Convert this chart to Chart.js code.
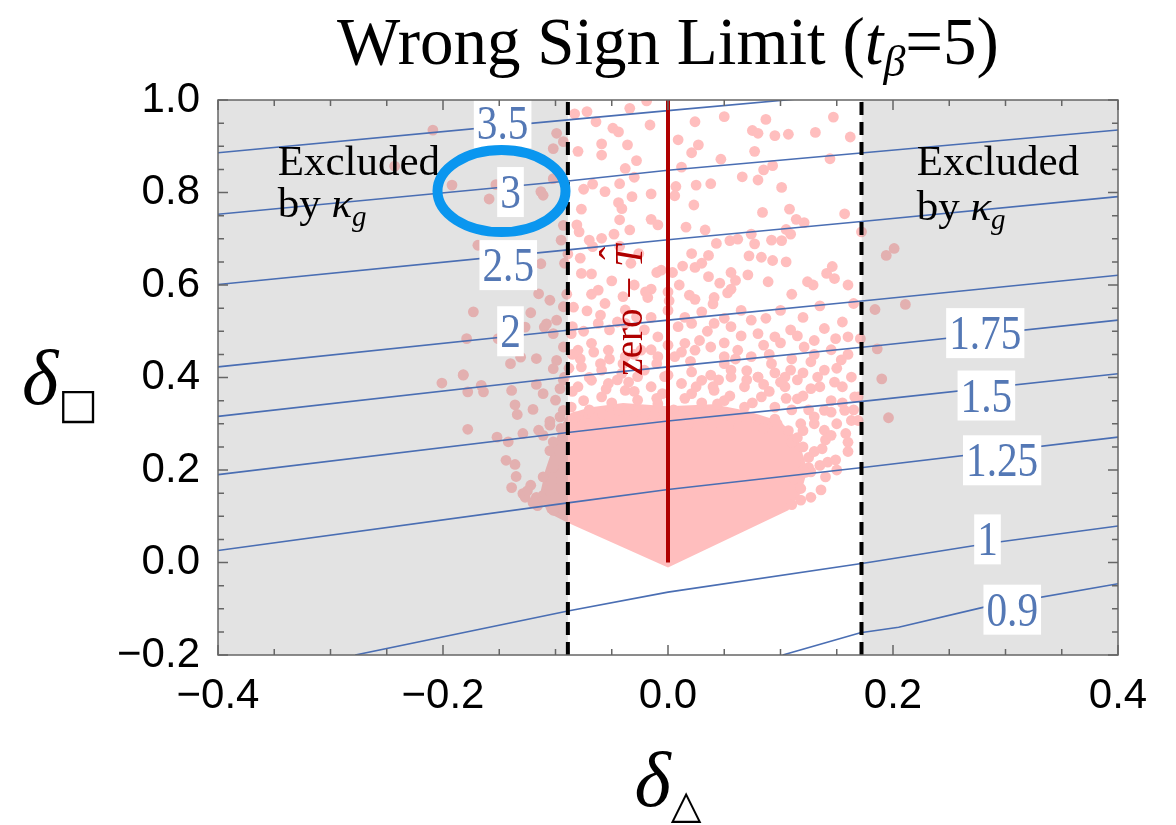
<!DOCTYPE html>
<html>
<head>
<meta charset="utf-8">
<script src="https://cdn.jsdelivr.net/npm/chart.js@4.4.0/dist/chart.umd.min.js"></script>
<style>
  html, body { margin: 0; padding: 0; background: #fff; }
  #wrap { width: 1176px; height: 825px; }
</style>
</head>
<body>
<div id="wrap"><canvas id="chart" width="1176" height="825"></canvas></div>
<script>
// axis ranges and the kappa_g exclusion boundaries
const xRange = [-0.4, 0.4];
const yRange = [-0.2, 1.0];
const kappaBounds = [-0.089, 0.172];

// contour lines, [x, y] pairs
const contour35 = [[-0.4, 0.886], [-0.089, 0.957], [0.0, 0.977], [0.4, 1.065]];
const contour3 = [[-0.4, 0.753], [-0.089, 0.825], [0.0, 0.848], [0.179, 0.887], [0.4, 0.935]];
const contour25 = [[-0.4, 0.601], [-0.089, 0.676], [0.0, 0.698], [0.179, 0.739], [0.4, 0.791]];
const contour2 = [[-0.4, 0.423], [-0.089, 0.502], [0.0, 0.524], [0.179, 0.567], [0.4, 0.621]];
const contour175 = [[-0.4, 0.316], [-0.089, 0.401], [0.0, 0.423], [0.179, 0.467], [0.4, 0.524]];
const contour15 = [[-0.4, 0.190], [-0.089, 0.281], [0.0, 0.306], [0.179, 0.350], [0.4, 0.408]];
const contour125 = [[-0.4, 0.026], [-0.089, 0.129], [0.0, 0.158], [0.179, 0.207], [0.4, 0.271]];
const contour1 = [[-0.278, -0.2], [-0.089, -0.105], [0.0, -0.064], [0.178, 0.0], [0.284, 0.041], [0.4, 0.079]];
const contour09 = [[0.102, -0.2], [0.171, -0.152], [0.205, -0.140], [0.28, -0.097], [0.4, -0.046]];

const contourLines = [contour35, contour3, contour25, contour2, contour175, contour15, contour125, contour1, contour09];
const contourLabels = ['3.5', '3', '2.5', '2', '1.75', '1.5', '1.25', '1', '0.9'];
const labelX = [-0.147, -0.140, -0.142, -0.140, 0.282, 0.283, 0.297, 0.284, 0.306];
const labelY = [0.950, 0.801, 0.643, 0.500, 0.496, 0.361, 0.221, 0.050, -0.102];

// zero-T line
const zeroTLine = [[0, 0], [0, 1.0]];

// the solid core of the scan points (upper and lower edge)
const coreUpper = [[-0.114, 0.145], [-0.109, 0.200], [-0.100, 0.265], [-0.090, 0.320], [-0.070, 0.335], [-0.040, 0.345],
  [0.0, 0.338], [0.040, 0.342], [0.070, 0.328], [0.100, 0.305], [0.116, 0.265], [0.124, 0.200]];
const coreLower = [[-0.114, 0.145], [-0.107, 0.108], [-0.090, 0.087], [0.0, -0.011], [0.107, 0.113], [0.118, 0.150], [0.124, 0.200]];

// individual scan points
const scanPoints = [
  [-0.019,0.998],[-0.034,0.982],[-0.072,0.975],[-0.083,0.970],[-0.064,0.953],[-0.016,0.946],[0.024,0.953],[0.050,0.964],[0.087,0.958],[0.147,0.963],
  [-0.049,0.939],[-0.044,0.931],[0.075,0.934],[0.080,0.928],[0.095,0.923],[0.107,0.926],[0.131,0.930],[0.162,0.920],[-0.080,0.889],[-0.059,0.905],
  [-0.036,0.903],[0.009,0.914],[0.027,0.903],[0.021,0.886],[0.077,0.889],[0.144,0.873],[0.047,0.872],[-0.059,0.881],[-0.028,0.869],[0.093,0.858],
  [0.085,0.849],[0.066,0.834],[0.080,0.827],[0.038,0.819],[0.101,0.811],[-0.038,0.852],[-0.030,0.833],[-0.043,0.819],[-0.067,0.818],[-0.075,0.807],
  [-0.056,0.802],[-0.032,0.791],[-0.015,0.797],[0.007,0.813],[0.006,0.793],[0.012,0.855],[0.025,0.816],[0.023,0.773],[-0.044,0.778],[-0.041,0.765],
  [-0.077,0.764],[-0.043,0.741],[-0.015,0.742],[-0.009,0.730],[-0.081,0.730],[-0.079,0.715],[-0.070,0.697],[-0.059,0.701],[-0.048,0.710],[-0.034,0.719],
  [0.016,0.725],[0.033,0.719],[0.043,0.690],[0.055,0.696],[0.062,0.699],[0.074,0.710],[0.084,0.757],[0.108,0.764],[0.114,0.742],[0.121,0.735],
  [0.105,0.720],[0.157,0.754],[0.172,0.715],[0.077,0.689],[0.092,0.697],[0.101,0.696],[0.109,0.710],[-0.089,0.667],[-0.078,0.658],[-0.067,0.683],
  [-0.043,0.684],[-0.026,0.668],[-0.033,0.647],[-0.006,0.632],[0.004,0.627],[-0.010,0.627],[0.013,0.641],[0.024,0.638],[0.030,0.647],[0.036,0.664],
  [0.021,0.668],[0.036,0.618],[0.046,0.604],[0.056,0.627],[0.072,0.663],[0.083,0.660],[0.093,0.653],[0.105,0.650],[0.071,0.622],[0.089,0.607],
  [0.124,0.607],[0.129,0.600],[0.141,0.625],[0.146,0.640],[0.148,0.614],[0.056,0.591],[0.053,0.583],[0.041,0.573],[0.040,0.559],[0.019,0.578],
  [0.024,0.569],[0.000,0.585],[0.001,0.566],[-0.015,0.591],[-0.020,0.585],[-0.018,0.573],[-0.062,0.589],[-0.068,0.580],[-0.050,0.609],[-0.068,0.624],
  [-0.077,0.625],[-0.092,0.647],
  [-0.084,0.552],[-0.072,0.544],[-0.056,0.560],[-0.038,0.546],[-0.028,0.531],[-0.062,0.517],[-0.052,0.503],[-0.038,0.517],[-0.021,0.503],[-0.009,0.488],
  [0.009,0.510],[0.021,0.517],[0.030,0.542],[0.041,0.517],[0.050,0.528],[0.056,0.510],[0.074,0.524],[0.087,0.528],[0.080,0.495],[0.095,0.488],
  [0.109,0.503],[0.121,0.466],[0.139,0.506],[0.149,0.484],[0.160,0.488],[0.127,0.434],[0.109,0.416],[0.092,0.430],[0.074,0.445],[0.062,0.459],
  [0.050,0.445],[0.038,0.466],[0.024,0.459],[0.015,0.474],[0.006,0.445],[-0.009,0.445],[-0.024,0.459],[-0.038,0.445],[-0.053,0.459],[-0.068,0.474],
  [-0.080,0.459],[-0.086,0.495],[-0.077,0.423],[-0.059,0.416],[-0.041,0.409],[-0.021,0.416],[0.021,0.412],[0.038,0.405],[0.056,0.416],[0.080,0.401],
  [0.104,0.401],[0.139,0.416],[0.154,0.438],[0.163,0.401],[-0.027,0.402],[-0.003,0.402],
  [-0.088,0.420],[-0.078,0.440],[-0.066,0.455],[-0.052,0.440],[-0.030,0.450],[-0.015,0.460],[0.000,0.470],[0.012,0.455],[0.028,0.480],[0.050,0.475],
  [0.065,0.490],[0.085,0.470],[0.100,0.475],[0.115,0.490],[0.130,0.480],[0.145,0.460],[0.160,0.450],[0.120,0.410],[0.095,0.410],[0.060,0.440],
  [-0.075,0.500],[-0.060,0.535],[-0.045,0.520],[-0.015,0.530],[0.000,0.545],[0.015,0.530],[0.035,0.500],[0.065,0.545],[0.100,0.545],[0.120,0.530],
  [0.135,0.555],[0.155,0.520],[0.165,0.560],[-0.090,0.580],[-0.040,0.575],[-0.030,0.600],[0.010,0.600],[0.060,0.610],[0.110,0.580],[0.160,0.600],
  [-0.085,0.510],
  [-0.092,0.401],[-0.080,0.380],[-0.068,0.394],[-0.053,0.387],[-0.059,0.358],[-0.038,0.372],[-0.027,0.351],[-0.015,0.380],[-0.009,0.343],[0.012,0.387],
  [0.021,0.365],[0.030,0.394],[0.041,0.372],[0.056,0.401],[0.068,0.380],[0.080,0.401],[0.083,0.358],[0.104,0.380],[0.115,0.354],[0.127,0.376],
  [0.133,0.401],[0.148,0.390],[0.166,0.358],[0.157,0.329],[0.163,0.307],[0.139,0.329],[0.130,0.300],[0.118,0.300],[0.139,0.286],[0.158,0.279],
  [0.137,0.246],[0.125,0.227],[0.142,0.217],[0.149,0.222],[0.127,0.196],[0.136,0.157],[0.127,0.141],[0.095,0.336],[0.068,0.336],[0.044,0.343],
  [0.027,0.329],[-0.044,0.329],[-0.071,0.322],[-0.086,0.336],
  [-0.085,0.370],[-0.075,0.350],[-0.065,0.310],[-0.050,0.345],[-0.045,0.395],[-0.030,0.370],[-0.020,0.320],[-0.005,0.365],[0.005,0.330],[0.015,0.355],
  [0.030,0.345],[0.035,0.310],[0.045,0.395],[0.055,0.360],[0.060,0.320],[0.070,0.395],[0.075,0.345],[0.090,0.370],[0.095,0.310],[0.100,0.390],
  [0.110,0.330],[0.120,0.360],[0.130,0.315],[0.145,0.350],[0.150,0.300],[0.155,0.380],[0.160,0.260],[0.140,0.265],[0.130,0.240],[0.120,0.285],
  [0.110,0.260],[0.125,0.205],[0.140,0.185],[0.118,0.160],[-0.060,0.430],[-0.040,0.430],[-0.010,0.430],[0.020,0.435],[0.050,0.430],[0.070,0.415],
  [0.090,0.450],[0.110,0.440],[0.130,0.450],[0.150,0.420],[-0.085,0.450],[-0.070,0.400],[0.000,0.405],[0.040,0.380],
  [-0.070,0.330],[-0.055,0.375],[-0.035,0.390],[-0.010,0.355],[0.025,0.380],[0.050,0.350],[0.085,0.385],[0.105,0.355],[0.125,0.330],[0.115,0.395],
  [0.145,0.275],[0.160,0.240],[0.135,0.210],[0.150,0.200],[0.145,0.325],[0.155,0.345],[0.165,0.330],[0.135,0.380],
  [-0.105,0.305],[-0.095,0.290],[-0.082,0.315],[-0.070,0.295],[-0.058,0.320],[-0.047,0.300],[-0.035,0.330],[-0.025,0.305],[-0.012,0.318],[-0.002,0.290],
  [0.008,0.315],[0.018,0.298],[0.028,0.322],[0.040,0.300],[0.052,0.318],[0.063,0.295],[0.073,0.312],[0.085,0.290],[0.097,0.300],[0.107,0.285],
  [0.115,0.270],[0.120,0.250],[0.113,0.215],[0.122,0.195],[0.112,0.180],[0.118,0.135],[0.110,0.125],
  [-0.201,0.388],[-0.182,0.406],[-0.166,0.383],[-0.178,0.369],[-0.164,0.369],[-0.139,0.372],[-0.117,0.385],[-0.111,0.365],[-0.100,0.351],[-0.096,0.376],
  [-0.136,0.341],[-0.134,0.320],[-0.120,0.331],[-0.178,0.288],[-0.152,0.271],[-0.142,0.261],[-0.129,0.279],[-0.115,0.286],[-0.111,0.275],[-0.105,0.297],
  [-0.096,0.315],[-0.093,0.329],[-0.102,0.261],[-0.105,0.242],[-0.096,0.224],[-0.144,0.221],[-0.136,0.212],[-0.135,0.186],[-0.139,0.162],[-0.129,0.149],
  [-0.122,0.167],[-0.117,0.141],[-0.111,0.145],[-0.105,0.156],[-0.102,0.131],[-0.095,0.177],[-0.095,0.163],[-0.111,0.185],[-0.102,0.206],[-0.093,0.113],
  [-0.102,0.113],[-0.116,0.123],[-0.127,0.141],[-0.125,0.155],[-0.110,0.135],[-0.100,0.140],[-0.120,0.130],
  [-0.209,0.935],[-0.243,0.857],[-0.192,0.816],[-0.153,0.817],[-0.159,0.786],[-0.113,0.802],[-0.111,0.794],[-0.102,0.830],[-0.099,0.928],[-0.093,0.910],
  [-0.102,0.895],[-0.093,0.729],[-0.095,0.697],[-0.169,0.686],[-0.113,0.646],[-0.115,0.581],[-0.105,0.567],[-0.093,0.553],[-0.122,0.540],[-0.173,0.542],
  [-0.127,0.509],[-0.110,0.509],[-0.102,0.495],[-0.093,0.466],[-0.179,0.484],[-0.151,0.484],[-0.131,0.444],[-0.117,0.441],[-0.099,0.437],[-0.140,0.430],
  [-0.102,0.419],[-0.182,0.405],[-0.093,0.394],[-0.108,0.516],[-0.099,0.524],
  [0.194,0.664],[0.201,0.679],[0.184,0.547],[0.211,0.558],[0.171,0.484],[0.186,0.462],[0.190,0.397],[0.196,0.313],[0.169,0.358],[0.169,0.307]
];

const serif = '"Liberation Serif", "Times New Roman", serif';
const sans = '"Liberation Sans", Arial, sans-serif';
const symbolFont = '"DejaVu Sans", sans-serif';
const pink = 'rgb(255, 190, 190)';
const contourColor = '#4a6eb3';
const labelColor = '#5478b5';

const toXY = (pairs) => pairs.map(([x, y]) => ({ x, y }));

function tickText(v) {
  if (Math.abs(v) < 1e-9) return '0.0';
  return (v < 0 ? '\u2212' : '') + Math.abs(v).toFixed(1);
}

function drawRuns(ctx, runs, x, y, center) {
  let total = 0;
  runs.forEach((r) => { ctx.font = r[1]; total += ctx.measureText(r[0]).width; });
  let cx = center ? x - total / 2 : x;
  runs.forEach((r) => {
    ctx.font = r[1];
    ctx.fillText(r[0], cx, y + (r[2] || 0));
    cx += ctx.measureText(r[0]).width;
  });
  return total;
}

const annotations = {
  id: 'annotations',
  afterDraw(chart) {
    const { ctx, chartArea: a, scales: { x, y } } = chart;
    ctx.save();
    ctx.textAlign = 'left';
    ctx.textBaseline = 'alphabetic';

    // contour labels on white boxes
    ctx.font = '48px ' + serif;
    contourLabels.forEach((txt, i) => {
      const px = x.getPixelForValue(labelX[i]);
      const py = y.getPixelForValue(labelY[i]);
      const w = ctx.measureText(txt).width * 0.86;
      ctx.fillStyle = '#fff';
      ctx.fillRect(px - w / 2 - 3, py - 25, w + 6, 50);
      ctx.save();
      ctx.translate(px, py);
      ctx.scale(0.86, 1);
      ctx.fillStyle = labelColor;
      ctx.textAlign = 'center';
      ctx.fillText(txt, 0, 16);
      ctx.restore();
    });

    // excluded-region texts
    ctx.fillStyle = '#000';
    const exFont = '43px ' + serif;
    const byRuns = [['by ', exFont], ['\u03ba', 'italic 43px ' + serif], ['g', 'italic 29px ' + serif, 9]];
    [[-0.347, 175, 217], [0.221, 175, 220]].forEach(([vx, b1, b2]) => {
      const px = x.getPixelForValue(vx);
      drawRuns(ctx, [['Excluded', exFont]], px, b1, false);
      drawRuns(ctx, byRuns, px, b2, false);
    });

    // zero-T label, rotated
    ctx.save();
    ctx.translate(x.getPixelForValue(0) - 26, y.getPixelForValue(0.404));
    ctx.rotate(-Math.PI / 2);
    ctx.fillStyle = '#b00000';
    ctx.font = '39px ' + serif;
    const w1 = ctx.measureText('zero \u2212 ').width;
    ctx.fillText('zero \u2212 ', 0, 0);
    ctx.font = 'italic 39px ' + serif;
    const wT = ctx.measureText('T').width;
    ctx.fillText('T', w1, 0);
    ctx.font = '39px ' + serif;
    ctx.textAlign = 'center';
    ctx.fillText('\u02c6', w1 + wT / 2 + 3, -15);
    ctx.restore();

    // highlight ellipse around the "3" label
    ctx.strokeStyle = '#0a96ef';
    ctx.lineWidth = 10;
    ctx.beginPath();
    ctx.ellipse(x.getPixelForValue(-0.148), y.getPixelForValue(0.803), 64, 41, 0, 0, Math.PI * 2);
    ctx.stroke();

    // frame and inward ticks
    ctx.strokeStyle = '#666';
    ctx.lineWidth = 1.5;
    ctx.strokeRect(a.left, a.top, a.right - a.left, a.bottom - a.top);
    ctx.beginPath();
    for (let k = 0; k <= 16; k++) {
      const px = x.getPixelForValue(xRange[0] + k * 0.05);
      const len = k % 4 === 0 ? 10 : 6;
      ctx.moveTo(px, a.bottom); ctx.lineTo(px, a.bottom - len);
      ctx.moveTo(px, a.top); ctx.lineTo(px, a.top + len);
    }
    for (let k = 0; k <= 24; k++) {
      const py = y.getPixelForValue(yRange[0] + k * 0.05);
      const len = k % 4 === 0 ? 10 : 6;
      ctx.moveTo(a.left, py); ctx.lineTo(a.left + len, py);
      ctx.moveTo(a.right, py); ctx.lineTo(a.right - len, py);
    }
    ctx.stroke();

    // title
    ctx.fillStyle = '#000';
    const cx = (a.left + a.right) / 2;
    drawRuns(ctx, [
      ['Wrong Sign Limit (', '67px ' + serif],
      ['t', 'italic 67px ' + serif],
      ['\u03b2', 'italic 44px ' + serif, 12],
      ['=5)', '67px ' + serif]
    ], cx, 64, true);

    // axis titles
    drawRuns(ctx, [['\u03b4', 'italic 78px ' + serif], ['\u25b3', '40px ' + symbolFont, 12]], cx, 806, true);
    drawRuns(ctx, [['\u03b4', 'italic 78px ' + serif], ['\u25a1', '42px ' + symbolFont, 14]], 22, 404, false);
    ctx.restore();
  }
};

const lineBase = { showLine: true, pointRadius: 0, fill: false, tension: 0 };
const datasets = [];

// kappa_g boundaries (dashed, on top)
kappaBounds.forEach((b) => {
  datasets.push({ ...lineBase, data: toXY([[b, yRange[0]], [b, yRange[1]]]), borderColor: '#000', borderWidth: 4, borderDash: [13, 7], order: 0 });
});
// zero-T line
datasets.push({ ...lineBase, data: toXY(zeroTLine), borderColor: '#b00000', borderWidth: 4, order: 1 });
// contours
contourLines.forEach((c) => {
  datasets.push({ ...lineBase, data: toXY(c), borderColor: contourColor, borderWidth: 1.6, order: 2 });
});
// excluded regions (translucent grey)
datasets.push({ ...lineBase, data: toXY([[xRange[0], yRange[1]], [kappaBounds[0], yRange[1]]]), borderWidth: 0, fill: 'start', backgroundColor: 'rgba(128,128,128,0.22)', order: 3 });
datasets.push({ ...lineBase, data: toXY([[kappaBounds[1], yRange[1]], [xRange[1], yRange[1]]]), borderWidth: 0, fill: 'start', backgroundColor: 'rgba(128,128,128,0.22)', order: 3 });
// scan points
datasets.push({ data: toXY(scanPoints), showLine: false, pointRadius: 5.4, pointBackgroundColor: pink, pointBorderWidth: 0, order: 4 });
// dense core
datasets.push({ ...lineBase, data: toXY(coreUpper), borderWidth: 0, backgroundColor: pink, fill: '+1', order: 5 });
datasets.push({ ...lineBase, data: toXY(coreLower), borderWidth: 0, showLine: false, order: 5 });

new Chart(document.getElementById('chart'), {
  type: 'line',
  data: { datasets },
  options: {
    responsive: false,
    animation: false,
    events: [],
    layout: { padding: { top: 100, right: 58, left: 0, bottom: 0 } },
    plugins: { legend: { display: false }, tooltip: { enabled: false } },
    scales: {
      x: {
        type: 'linear',
        min: xRange[0],
        max: xRange[1],
        grid: { display: false },
        border: { display: false },
        ticks: { stepSize: 0.2, padding: 8, color: '#000', font: { family: sans, size: 42 }, callback: tickText, maxRotation: 0 },
        afterFit: (s) => { s.height = 170; }
      },
      y: {
        type: 'linear',
        min: yRange[0],
        max: yRange[1],
        grid: { display: false },
        border: { display: false },
        ticks: { stepSize: 0.2, padding: 10, color: '#000', font: { family: sans, size: 42 }, callback: tickText },
        afterFit: (s) => { s.width = 218; }
      }
    }
  },
  plugins: [annotations]
});
</script>
</body>
</html>
